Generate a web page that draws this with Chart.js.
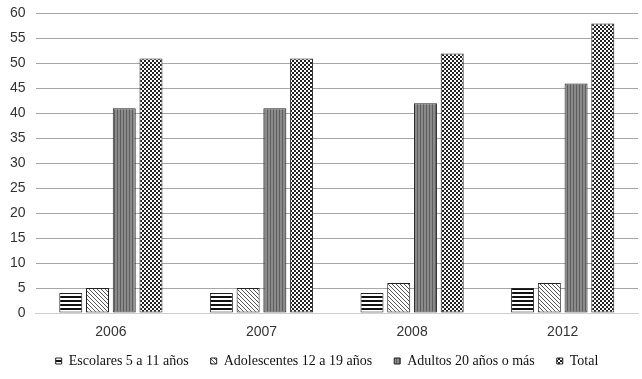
<!DOCTYPE html>
<html>
<head>
<meta charset="utf-8">
<script src="https://cdn.jsdelivr.net/npm/chart.js@4"></script>
<style>
  html, body { margin: 0; padding: 0; background: #fff; }
  #wrap { width: 642px; height: 379px; }
</style>
</head>
<body>
<div id="wrap"><canvas id="chart"></canvas></div>
<script>
const years = ['2006', '2007', '2008', '2012'];
const seriesNames = ['Escolares 5 a 11 años', 'Adolescentes 12 a 19 años', 'Adultos 20 años o más', 'Total'];
const escolares = [4, 4, 4, 5];
const adolescentes = [5, 5, 6, 6];
const adultos = [41, 41, 42, 46];
const total = [51, 51, 52, 58];
const yTicks = [0, 5, 10, 15, 20, 25, 30, 35, 40, 45, 50, 55, 60];

// Patterns
function makePattern(size, draw) {
  const c = document.createElement('canvas');
  c.width = size; c.height = size;
  const ctx = c.getContext('2d');
  draw(ctx);
  return ctx.createPattern(c, 'repeat');
}
const ctxMain = document.getElementById('chart').getContext('2d');

const horiz = makePattern(4, g => {
  g.fillStyle = '#fff'; g.fillRect(0, 0, 4, 4);
  g.fillStyle = '#111'; g.fillRect(0, 0, 4, 2);
});
const diag = makePattern(4, g => {
  g.fillStyle = '#fff'; g.fillRect(0, 0, 4, 4);
  g.fillStyle = '#555';
  for (let i = 0; i < 4; i++) g.fillRect(i, i, 1, 1);
});
const vert = makePattern(3, g => {
  g.fillStyle = '#8a8a8a'; g.fillRect(0, 0, 3, 3);
  g.fillStyle = '#5e5e5e'; g.fillRect(0, 0, 1, 3);
});
const checker = makePattern(4, g => {
  g.fillStyle = '#fff'; g.fillRect(0, 0, 4, 4);
  g.fillStyle = '#222';
  g.fillRect(0, 0, 2, 2); g.fillRect(2, 2, 2, 2);
});

const fills = [horiz, diag, vert, checker];
const values = [escolares, adolescentes, adultos, total];

// wide gaps between legend items, but a compact legend strip
const legendFit = {
  id: 'legendFit',
  beforeLayout(chart) {
    const lg = chart.legend;
    if (lg && !lg._patched) {
      const orig = lg.fit;
      lg.fit = function () { orig.call(this); this.height = 36; };
      lg._patched = true;
    }
  },
  afterLayout(chart) {
    const lg = chart.legend;
    if (lg) { lg.top -= 11; lg.bottom -= 11; lg.left += 8; lg.right += 8; }
  }
};

new Chart(ctxMain, {
  type: 'bar',
  data: {
    labels: years,
    datasets: seriesNames.map((name, i) => ({
      label: name,
      data: values[i],
      backgroundColor: fills[i],
      borderColor: '#222',
      borderWidth: 1,
      borderSkipped: false,
      categoryPercentage: 0.71,
      barPercentage: 0.86
    }))
  },
  plugins: [legendFit],
  options: {
    responsive: true,
    maintainAspectRatio: false,
    animation: false,
    layout: { padding: { left: 0, right: 4, top: 0, bottom: 0 } },
    plugins: {
      legend: {
        position: 'bottom',
        labels: {
          font: { family: 'Liberation Serif', size: 14 },
          color: '#111',
          boxWidth: 6,
          boxHeight: 6,
          padding: 22
        }
      },
      tooltip: { enabled: false }
    },
    scales: {
      x: {
        grid: { display: false },
        border: { color: '#d0d0d0' },
        ticks: { font: { family: 'Liberation Sans', size: 14 }, color: '#333', padding: 3 },
        afterFit: axis => { axis.height = 30; }
      },
      y: {
        min: 0,
        max: 60,
        afterBuildTicks: axis => { axis.ticks = yTicks.map(v => ({ value: v })); },
        grid: { color: '#a6a6a6', drawTicks: false },
        border: { display: false },
        ticks: { font: { family: 'Liberation Sans', size: 14, lineHeight: 0.5 }, color: '#333', padding: 10 }
      }
    }
  }
});
</script>
</body>
</html>
